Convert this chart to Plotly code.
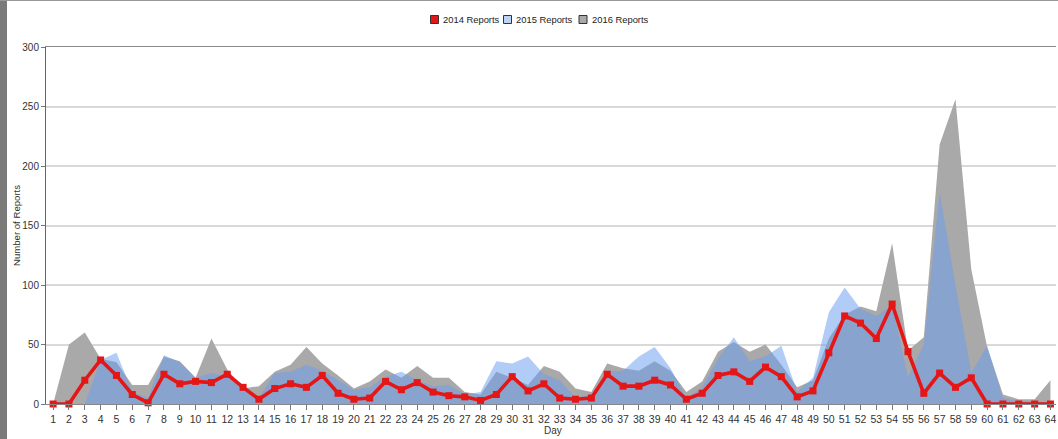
import plotly.graph_objects as go

days = list(range(1, 65))

reports_2014 = [0, 0, 20, 37, 24, 8, 1, 25, 17, 19,
                18, 25, 14, 4, 13, 17, 14, 24, 9, 4,
                5, 19, 12, 18, 10, 7, 6, 3, 8, 23,
                11, 17, 5, 4, 5, 25, 15, 15, 20, 16,
                4, 9, 24, 27, 19, 31, 23, 6, 11, 43,
                74, 68, 55, 84, 44, 9, 26, 14, 22, 0,
                0, 0, 0, 0]

reports_2015 = [0, 0, 0, 37, 43, 10, 5, 41, 35, 22,
                26, 23, 12, 5, 26, 27, 33, 28, 20, 12,
                14, 23, 27, 20, 15, 16, 8, 10, 36, 34,
                40, 25, 20, 5, 8, 27, 28, 40, 48, 30,
                5, 14, 38, 56, 36, 40, 49, 10, 22, 77,
                98, 80, 74, 83, 23, 50, 178, 100, 26, 49,
                5, 2, 2, 0]

reports_2016 = [0, 50, 60, 38, 35, 16, 16, 40, 36, 22,
                55, 29, 13, 15, 27, 33, 48, 34, 24, 13,
                19, 29, 22, 32, 22, 22, 10, 8, 27, 22,
                16, 32, 27, 13, 10, 34, 30, 28, 36, 28,
                10, 19, 44, 52, 44, 50, 33, 14, 20, 55,
                75, 82, 78, 135, 45, 56, 218, 256, 113, 48,
                8, 4, 4, 20]

y_ticks = [0, 50, 100, 150, 200, 250, 300]
series_names = ["2014 Reports", "2015 Reports", "2016 Reports"]
x_title = "Day"
y_title = "Number of Reports"

RED = "#e51616"
BLUE_FILL = "rgba(105,158,240,0.52)"
BLUE_LEG = "#bcd3f5"
GREY = "#a9a9a9"

W, H = 1058, 439
ML, MR, MT, MB = 46, 2, 47, 35
PW, PH = W - ML - MR, H - MT - MB


def px_x(px):
    return (px - ML) / PW


def px_y(py):
    return (H - MB - py) / PH


fig = go.Figure()

fig.add_trace(go.Scatter(
    x=days, y=reports_2016, mode="lines", fill="tozeroy", name=series_names[2],
    fillcolor=GREY, line=dict(width=0, color=GREY),
    showlegend=False, hoverinfo="skip"))

fig.add_trace(go.Scatter(
    x=days, y=reports_2015, mode="lines", fill="tozeroy", name=series_names[1],
    fillcolor=BLUE_FILL, line=dict(width=0, color=BLUE_FILL),
    showlegend=False, hoverinfo="skip"))

fig.add_trace(go.Scatter(
    x=days, y=reports_2014, mode="lines+markers", name=series_names[0],
    line=dict(color=RED, width=3.6),
    marker=dict(symbol="square", size=7, color=RED),
    cliponaxis=False, showlegend=False))

fig.update_layout(
    width=W, height=H,
    margin=dict(l=ML, r=MR, t=MT, b=MB, autoexpand=False),
    paper_bgcolor="white", plot_bgcolor="white",
    font=dict(family="Liberation Sans, Arial, sans-serif", size=11, color="#333333"),
    showlegend=False,
)

# manual legend (square swatches + text)
legend_items = [(series_names[0], RED, 430.5, 441.0),
                (series_names[1], BLUE_LEG, 503.5, 514.0),
                (series_names[2], GREY, 579.0, 589.5)]
for name, col, sx, tx in legend_items:
    fig.add_shape(type="rect", xref="paper", yref="paper",
                  x0=px_x(sx), x1=px_x(sx + 8), y0=px_y(23.5), y1=px_y(15.5),
                  fillcolor=col, line=dict(color="#333333", width=1))
    fig.add_annotation(xref="paper", yref="paper", x=px_x(tx), y=px_y(19.5),
                       xanchor="left", yanchor="middle", showarrow=False,
                       text=name, font=dict(size=9.4, color="#222222"))

# axis titles
fig.add_annotation(xref="paper", yref="paper", x=px_x(16), y=px_y(226),
                   xanchor="center", yanchor="middle", showarrow=False, textangle=-90,
                   text=y_title, font=dict(size=9.6, color="#333333"))
fig.add_annotation(xref="paper", yref="paper", x=px_x(553), y=px_y(430),
                   xanchor="center", yanchor="middle", showarrow=False,
                   text=x_title, font=dict(size=10, color="#333333"))

fig.update_xaxes(
    range=[0.55, 64.35], tickmode="array", tickvals=days,
    ticktext=[str(d) for d in days],
    ticks="outside", ticklen=5, tickcolor="#777777",
    showline=True, linecolor="#888888", linewidth=1, mirror=True,
    showgrid=False, zeroline=False, automargin=False,
    tickfont=dict(size=10.5, color="#333333"),
)
fig.update_yaxes(
    range=[0, 300], tickmode="array", tickvals=y_ticks,
    ticks="outside", ticklen=4, tickcolor="#777777",
    showline=True, linecolor="#666666", linewidth=1,
    showgrid=True, gridcolor="#d9d9d9", gridwidth=1.5, zeroline=False,
    automargin=False,
    tickfont=dict(size=10, color="#333333"),
)

# left frame bar and top border
fig.add_shape(type="rect", xref="paper", yref="paper", x0=px_x(0), x1=px_x(7),
              y0=px_y(H), y1=px_y(0), fillcolor="#7a7a7a", line=dict(width=0), layer="above")
fig.add_shape(type="line", xref="paper", yref="paper", x0=px_x(0), x1=px_x(W),
              y0=px_y(0.5), y1=px_y(0.5), line=dict(color="#999999", width=1))

fig.write_html("out.html", config={"displayModeBar": False},
               post_script="document.body.style.margin='0px';document.body.style.padding='0px';")
